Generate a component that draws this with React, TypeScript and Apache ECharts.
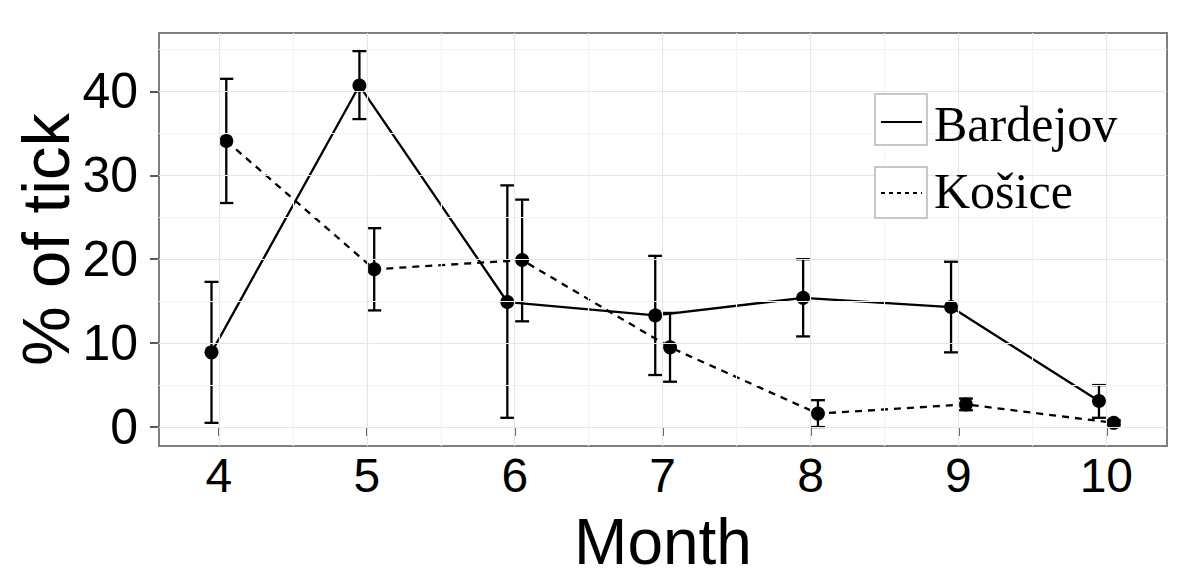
import React, { useEffect, useRef } from "react";
import * as echarts from "echarts";

const months = [4, 5, 6, 7, 8, 9, 10];
const bardejovMean = [8.9, 40.7, 14.9, 13.3, 15.4, 14.3, 3.1];
const bardejovLow = [0.5, 36.7, 1.1, 6.2, 10.8, 8.9, 1.1];
const bardejovHigh = [17.3, 44.8, 28.8, 20.4, 20.0, 19.7, 5.0];
const kosiceMean = [34.1, 18.8, 19.9, 9.5, 1.6, 2.7, 0.5];
const kosiceLow = [26.7, 13.9, 12.6, 5.4, 0.0, 2.0, 0.2];
const kosiceHigh = [41.5, 23.7, 27.1, 13.6, 3.2, 3.4, 0.8];
const yTicks = [0, 10, 20, 30, 40];
const yMinor = [5, 15, 25, 35, 45];
const xMinor = [4.5, 5.5, 6.5, 7.5, 8.5, 9.5];
const seriesNames = ["Bardejov", "Košice"];
const dodge = 0.05;

export default function App() {
  const ref = useRef<HTMLDivElement>(null);
  useEffect(() => {
    if (!ref.current) return;
    const chart = echarts.init(ref.current, undefined, { renderer: "svg" });
    const bPts = months.map((m, i) => [m - dodge, bardejovMean[i]]);
    const kPts = months.map((m, i) => [m + dodge, kosiceMean[i]]);
    const bErr = months.map((m, i) => [m - dodge, bardejovLow[i], bardejovHigh[i]]);
    const kErr = months.map((m, i) => [m + dodge, kosiceLow[i], kosiceHigh[i]]);

    const errRender = (params: any, api: any) => {
      const x = api.value(0);
      const lo = api.coord([x, api.value(1)]);
      const hi = api.coord([x, api.value(2)]);
      const hw = 7;
      const style = { stroke: "#000", lineWidth: 2.3 };
      return {
        type: "group",
        children: [
          { type: "line", shape: { x1: lo[0], y1: lo[1], x2: hi[0], y2: hi[1] }, style },
          { type: "line", shape: { x1: lo[0] - hw, y1: lo[1], x2: lo[0] + hw, y2: lo[1] }, style },
          { type: "line", shape: { x1: hi[0] - hw, y1: hi[1], x2: hi[0] + hw, y2: hi[1] }, style },
        ],
      };
    };

    const gridLines = (vals: number[], axis: "xAxis" | "yAxis", color: string, w: number) =>
      vals.map((v) => ({ [axis]: v, lineStyle: { color, width: w, type: "solid" } }));

    const font = "Liberation Sans";
    chart.setOption({
      animation: false,
      backgroundColor: "#ffffff",
      grid: {
        left: 159,
        top: 33,
        right: 33,
        bottom: 138,
        outerBoundsMode: "none",
        show: true,
        borderColor: "#7f7f7f",
        borderWidth: 2,
        backgroundColor: "transparent",
        z: 5,
      },
      xAxis: {
        type: "value",
        min: 3.595,
        max: 10.41,
        name: "Month",
        nameLocation: "middle",
        nameGap: 68,
        nameMoveOverlap: false,
        nameTextStyle: { fontFamily: font, fontSize: 64, lineHeight: 56, color: "#000" },
        axisLine: { show: false },
        axisTick: { show: true, length: 9, lineStyle: { color: "#222", width: 1.5 }, customValues: months },
        axisLabel: { show: true, margin: 9, fontFamily: font, fontSize: 48, lineHeight: 40, color: "#000", customValues: months },
        splitLine: { show: false },
      },
      yAxis: {
        type: "value",
        min: -2.26,
        max: 46.96,
        name: "% of tick",
        nameLocation: "middle",
        nameGap: 80,
        nameMoveOverlap: false,
        nameTextStyle: { fontFamily: font, fontSize: 67, color: "#000" },
        axisLine: { show: false },
        axisTick: { show: true, length: 9, lineStyle: { color: "#222", width: 1.5 }, customValues: yTicks },
        axisLabel: { show: true, margin: 21, fontFamily: font, fontSize: 50, color: "#000", customValues: yTicks },
        splitLine: { show: false },
      },
      series: [
        {
          type: "line",
          name: "grid",
          data: [],
          silent: true,
          z: 1,
          markLine: {
            silent: true,
            symbol: "none",
            label: { show: false },
            animation: false,
            data: [
              ...gridLines(xMinor, "xAxis", "#f4f4f4", 1.2),
              ...gridLines(yMinor, "yAxis", "#f4f4f4", 1.2),
              ...gridLines(months, "xAxis", "#e6e6e6", 1.2),
              ...gridLines(yTicks, "yAxis", "#e6e6e6", 1.2),
            ],
          },
        },
        {
          type: "custom",
          name: seriesNames[0] + " error",
          renderItem: errRender,
          data: bErr,
          encode: { x: 0, y: [1, 2] },
          z: 3,
          silent: true,
        },
        {
          type: "custom",
          name: seriesNames[1] + " error",
          renderItem: errRender,
          data: kErr,
          encode: { x: 0, y: [1, 2] },
          z: 3,
          silent: true,
        },
        {
          type: "line",
          name: seriesNames[0],
          data: bPts,
          symbol: "circle",
          symbolSize: 14,
          itemStyle: { color: "#000" },
          lineStyle: { color: "#000", width: 2.3 },
          z: 4,
        },
        {
          type: "line",
          name: seriesNames[1],
          data: kPts,
          symbol: "circle",
          symbolSize: 14,
          itemStyle: { color: "#000" },
          lineStyle: { color: "#000", width: 2.3, type: [7, 6] },
          z: 4,
        },
      ],
      graphic: [
        { type: "rect", shape: { x: 875, y: 94, width: 52, height: 51 }, style: { fill: "#fff", stroke: "#c8c8c8", lineWidth: 2 }, z: 10 },
        { type: "rect", shape: { x: 875, y: 167, width: 52, height: 51 }, style: { fill: "#fff", stroke: "#c8c8c8", lineWidth: 2 }, z: 10 },
        { type: "line", shape: { x1: 881, y1: 122, x2: 922, y2: 122 }, style: { stroke: "#000", lineWidth: 2 }, z: 11 },
        { type: "line", shape: { x1: 881, y1: 193, x2: 922, y2: 193 }, style: { stroke: "#000", lineWidth: 2, lineDash: [4, 4] }, z: 11 },
        { type: "text", x: 934, y: 124, style: { text: seriesNames[0], font: "50px 'Liberation Serif'", fill: "#000", verticalAlign: "middle", align: "left" }, z: 11 },
        { type: "text", x: 934, y: 191, style: { text: seriesNames[1], font: "50px 'Liberation Serif'", fill: "#000", verticalAlign: "middle", align: "left" }, z: 11 },
      ],
    });
    return () => chart.dispose();
  }, []);
  return <div ref={ref} style={{ position: "fixed", left: 0, top: 0, width: 1200, height: 584 }} />;
}
